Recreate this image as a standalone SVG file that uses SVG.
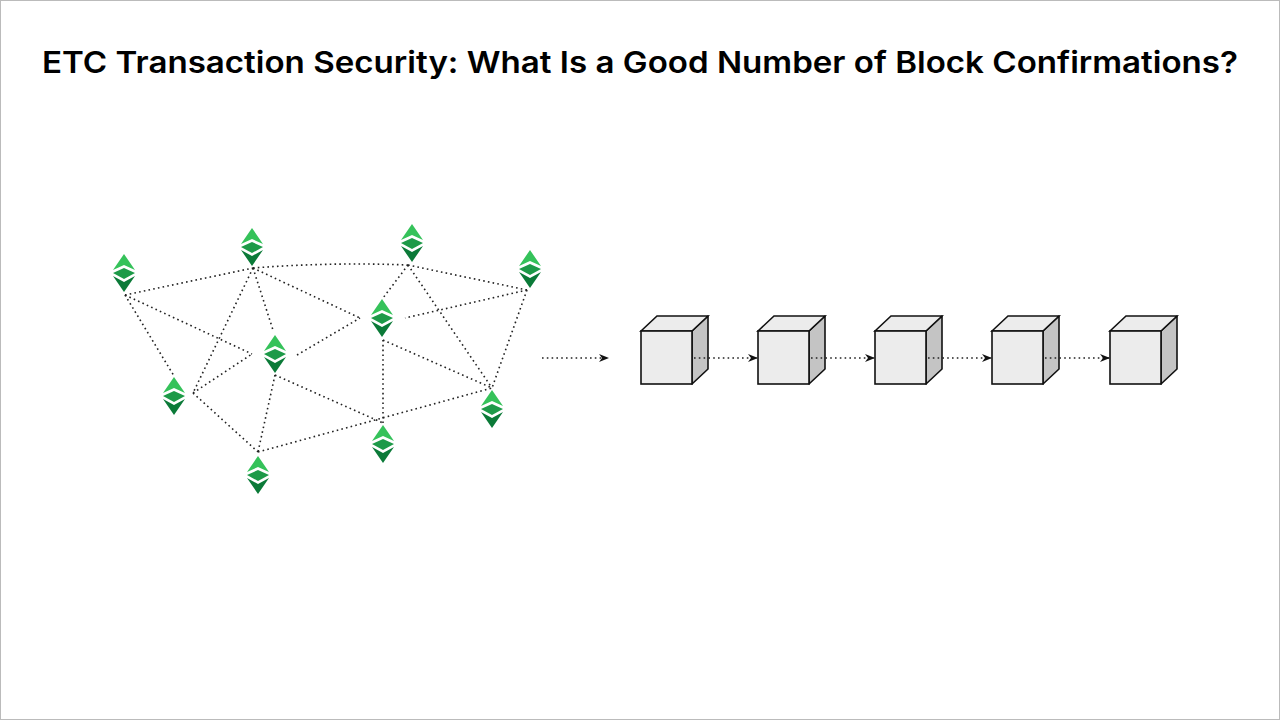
<svg xmlns="http://www.w3.org/2000/svg" width="1280" height="720" viewBox="0 0 1280 720">
<style>
.d{fill:none;stroke:#222;stroke-width:1.6;stroke-dasharray:1.6 3.2}
.f{fill:#ececec;stroke:#111;stroke-width:1.6}
.s{fill:#c4c4c4;stroke:#111;stroke-width:1.6;stroke-linejoin:round}
</style>
<defs>
<g id="logo">
<polygon points="0,-19 11,-3 0,-8 -11,-3" fill="#35c25a"/>
<polygon points="0,-5 11,0 0,6 -11,0" fill="#1d9a48"/>
<polygon points="0,19 11,3 0,9 -11,3" fill="#0b7a38"/>
</g>
<marker id="ah" markerWidth="10" markerHeight="8" refX="9" refY="4" orient="auto" markerUnits="userSpaceOnUse"><path d="M0,0 L10,4 L0,8 L3,4 Z" fill="#111"/></marker>
<g id="cube">
<polygon class="s" points="51,0 67,-15 67,38 51,53"/>
<polygon class="f" points="0,0 16,-15 67,-15 51,0"/>
<rect class="f" x="0" y="0" width="51" height="53"/>
</g>
</defs>
<rect x="0.5" y="0.5" width="1279" height="719" fill="#fff" stroke="#bbb"/>
<text x="640" y="73" text-anchor="middle" textLength="1196" lengthAdjust="spacingAndGlyphs" font-family="Inter, 'Open Sans', sans-serif" font-weight="600" font-size="30" fill="#000">ETC Transaction Security: What Is a Good Number of Block Confirmations?</text>
<g id="b1"><use href="#cube" x="641" y="331"/></g>
<g id="b2"><use href="#cube" x="758" y="331"/></g>
<g id="b3"><use href="#cube" x="875" y="331"/></g>
<g id="b4"><use href="#cube" x="992" y="331"/></g>
<g id="b5"><use href="#cube" x="1110" y="331"/></g>
<g id="connectors">
<path class="d" d="M125,295 L253,268"/>
<path class="d" d="M253,268 Q330,262 408,265"/>
<path class="d" d="M408,265 L527,290"/>
<path class="d" d="M125,295 L252,354"/>
<path class="d" d="M125,295 L174,376"/>
<path class="d" d="M253,268 L193,393"/>
<path class="d" d="M253,268 L273,330"/>
<path class="d" d="M253,268 L360,318"/>
<path class="d" d="M408,265 L383,298"/>
<path class="d" d="M408,265 L492,388"/>
<path class="d" d="M527,290 L405,318"/>
<path class="d" d="M527,290 L492,388"/>
<path class="d" d="M193,393 L252,354"/>
<path class="d" d="M193,393 L258,452"/>
<path class="d" d="M297,355 L360,318"/>
<path class="d" d="M275,375 L258,452"/>
<path class="d" d="M275,375 L383,423"/>
<path class="d" d="M383,340 L383,423"/>
<path class="d" d="M383,340 L492,388"/>
<path class="d" d="M258,452 L492,388"/>
<path class="d" d="M542,358 L608,358" marker-end="url(#ah)"/>
<path class="d" d="M694,358 L757,358" marker-end="url(#ah)"/>
<path class="d" d="M811,358 L874,358" marker-end="url(#ah)"/>
<path class="d" d="M928,358 L991,358" marker-end="url(#ah)"/>
<path class="d" d="M1045,358 L1109,358" marker-end="url(#ah)"/>
</g>
<g id="nA"><use href="#logo" x="124" y="273"/></g>
<g id="nB"><use href="#logo" x="252" y="247"/></g>
<g id="nC"><use href="#logo" x="412" y="243"/></g>
<g id="nD"><use href="#logo" x="530" y="269"/></g>
<g id="nE"><use href="#logo" x="382" y="318"/></g>
<g id="nF"><use href="#logo" x="275" y="354"/></g>
<g id="nG"><use href="#logo" x="174" y="396"/></g>
<g id="nH"><use href="#logo" x="492" y="409"/></g>
<g id="nI"><use href="#logo" x="383" y="444"/></g>
<g id="nJ"><use href="#logo" x="258" y="475"/></g>
</svg>
